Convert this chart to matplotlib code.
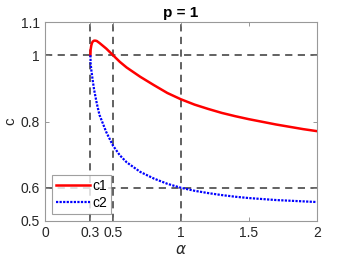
import numpy as np
import matplotlib
matplotlib.use('Agg')
import matplotlib.pyplot as plt

plt.rcParams['font.family'] = ['Liberation Sans', 'DejaVu Sans']

# values
alpha_c1 = [1/3, 0.335, 0.34, 0.345, 0.35, 0.36, 0.37, 0.38, 0.40, 0.45, 0.5, 0.55, 0.6, 0.7,
            0.8, 0.9, 1.0, 1.1, 1.2, 1.3, 1.4, 1.5, 1.6, 1.7, 1.8, 1.9, 2.0]
c1 = [1.0, 1.017, 1.03, 1.037, 1.041, 1.044, 1.044, 1.043, 1.037, 1.02, 1.0, 0.98, 0.963, 0.935,
      0.91, 0.886, 0.867, 0.851, 0.838, 0.826, 0.816, 0.807, 0.799, 0.791, 0.784, 0.777, 0.771]

alpha_c2 = [1/3, 0.335, 0.34, 0.35, 0.36, 0.38, 0.40, 0.45, 0.5, 0.55, 0.6, 0.7, 0.8, 0.9,
            1.0, 1.1, 1.2, 1.3, 1.4, 1.5, 1.6, 1.7, 1.8, 1.9, 2.0]
c2 = [1.0, 0.975, 0.955, 0.925, 0.897, 0.855, 0.82, 0.768, 0.727, 0.698, 0.677, 0.648, 0.628,
      0.612, 0.600, 0.591, 0.584, 0.578, 0.573, 0.569, 0.566, 0.563, 0.561, 0.559, 0.557]

vlines = [1/3, 0.5, 1]
hlines = [1, 0.6]
xticks = [0, 1/3, 0.5, 1, 1.5, 2]
xticklabels = ['0', '0.3', '0.5', '1', '1.5', '2']
yticks = [0.5, 0.6, 0.8, 1, 1.1]
yticklabels = ['0.5', '0.6', '0.8', '1', '1.1']

fig = plt.figure(figsize=(3.5, 2.63), dpi=100)
ax = fig.add_axes([0.129, 0.160, 0.776, 0.756])

for v in vlines:
    ax.axvline(v, color='#555555', ls=(0, (4, 3)), lw=1.3, zorder=1)
for h in hlines:
    ax.axhline(h, color='#555555', ls=(0, (4, 3)), lw=1.3, zorder=1)

ax.plot(alpha_c1, c1, color='red', lw=1.8, label='c1', zorder=3)
ax.plot(alpha_c2, c2, color='blue', lw=1.6, ls=(0, (1, 0.6)), label='c2', zorder=3)

ax.set_xlim(0, 2)
ax.set_ylim(0.5, 1.1)
ax.set_xticks(xticks)
ax.set_xticklabels(xticklabels)
ax.set_yticks(yticks)
ax.set_yticklabels(yticklabels)
ax.tick_params(direction='in', length=3, width=0.6, colors='#888888', labelcolor='#262626',
               labelsize=10, top=True, right=True, pad=4)
for s in ax.spines.values():
    s.set_color('#999999')
    s.set_linewidth(0.8)

ax.set_xlabel(r'$\alpha$', fontsize=11, color='#262626', labelpad=2)
ax.set_ylabel('c', fontsize=11, color='#262626', labelpad=2)
ax.set_title('p = 1', fontsize=11, fontweight='bold', pad=4)

leg = ax.legend(loc='lower left', fontsize=10, handlelength=2.4, handletextpad=0.2,
                borderpad=0.3, labelspacing=0.2, borderaxespad=0.5, fancybox=False)
leg.get_frame().set_edgecolor('#888888')
leg.get_frame().set_linewidth(0.8)

fig.savefig('out.png', dpi=100)
